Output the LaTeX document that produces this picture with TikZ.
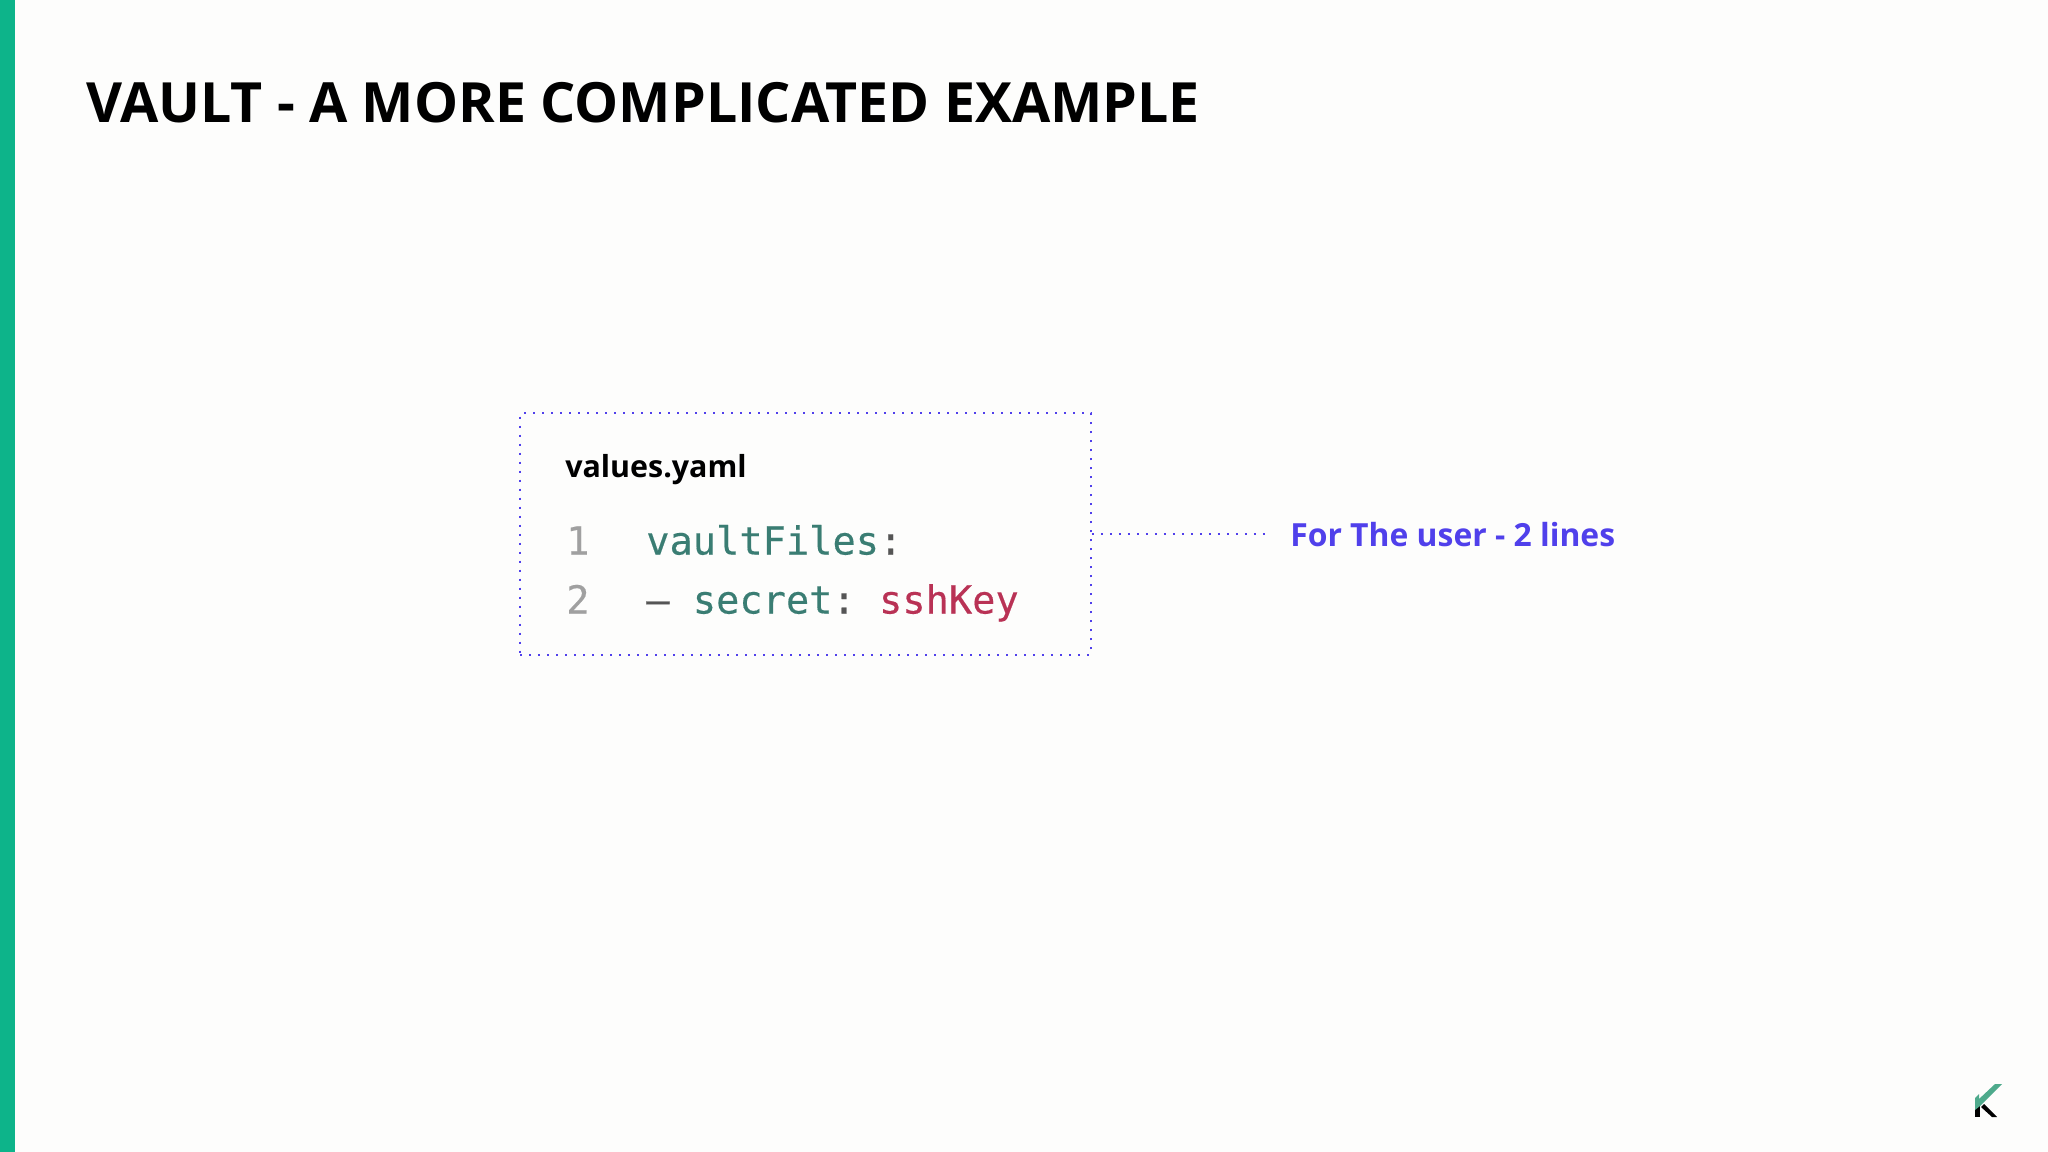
\documentclass[tikz,border=0pt]{standalone}
\usepackage{fontspec}
\setmainfont{Open Sans}
\newfontfamily\codefont[FakeBold=0.35]{DejaVu Sans Mono}
\usetikzlibrary{positioning}
\definecolor{barGreen}{RGB}{13,180,138}
\definecolor{logoGreen}{RGB}{78,170,140}
\definecolor{dotBlue}{RGB}{80,64,235}
\definecolor{codeGreen}{RGB}{58,125,115}
\definecolor{codeRed}{RGB}{185,50,85}
\definecolor{codeGrey}{RGB}{160,160,160}
\definecolor{codeDark}{RGB}{85,85,85}
\definecolor{pageWhite}{RGB}{253,253,252}
\tikzset{
  dotline/.style={color=dotBlue,line width=1.5pt,dash pattern={on 1.5pt off 5.25pt}},
  codetext/.style={anchor=base west,inner sep=0pt,font=\fontsize{29}{34}\selectfont\codefont\frenchspacing},
}
\begin{document}
\begin{tikzpicture}[x=0.75pt,y=0.75pt,yscale=-1,xscale=1]
\useasboundingbox (0,0) rectangle (2048,1152);

%Shape: Rectangle [page]
\fill [pageWhite] (0,0) rectangle (2048,1152);
%Shape: Rectangle [bar]
\fill [barGreen] (0,0) rectangle (15,1152);

%Shape: Polygon [logo black]
\fill [black] (1975,1106) -- (1980,1106) -- (1980,1117) -- (1975,1117) -- cycle ;
\fill [black] (1984,1104) -- (1997,1117) -- (1992,1117) -- (1981,1107) -- cycle ;
%Shape: Polygon [logo green]
\fill [logoGreen] (2002,1084) -- (1995,1084) -- (1979,1099) -- (1979,1094) -- (1975,1098) -- (1975,1110) -- (1980,1106) -- cycle ;

% Text Node
\draw (86,122.5) node (title) [anchor=base west,inner sep=0pt,font=\fontsize{41.6}{50}\selectfont\bfseries]  {VAULT - A MORE COMPLICATED EXAMPLE};

%Shape: Rectangle [box]
\draw (805.5,534) node (box) [dotline,draw,minimum width=428pt,minimum height=181pt,inner sep=0pt]  {};
%Straight Lines [connector]
\coordinate (boxEnd) at (1265,534);
\draw [dotline] (box.east) -- (boxEnd);

% Text Node
\draw (565,477) node (fileName) [anchor=base west,inner sep=0pt,font=\fontsize{22.8}{30}\selectfont\bfseries]  {values.yaml};
% Text Node
\draw (566,554.5) node (lineOne) [codetext,color=codeGrey]  {1};
% Text Node
\draw (646,554.5) node (keyOne) [codetext,color=codeGreen]  {vaultFiles\textcolor{codeDark}{:}};
% Text Node
\draw (566,613.5) node (lineTwo) [codetext,color=codeGrey]  {2};
% Text Node
\draw (646,613.5) node (keyTwo) [codetext,color=codeGreen]  {\textcolor{codeDark}{–} secret\textcolor{codeDark}{:} \textcolor{codeRed}{sshKey}};
% Text Node
\draw (1290,546.5) node (userNote) [anchor=base west,inner sep=0pt,color=dotBlue,font=\fontsize{23.9}{30}\selectfont\bfseries]  {For The user - 2 lines};

\end{tikzpicture}
\end{document}
